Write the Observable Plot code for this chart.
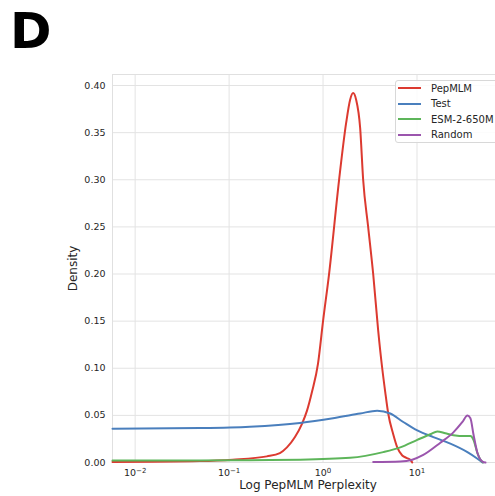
<!DOCTYPE html>
<html>
<head>
<meta charset="utf-8">
<script src="https://cdn.jsdelivr.net/npm/d3@7"></script>
<script src="https://cdn.jsdelivr.net/npm/@observablehq/plot@0.6"></script>
<style>
  html, body { margin: 0; padding: 0; background: #fff; overflow: hidden; }
  #wrap { position: relative; width: 495px; height: 496px; font-family: "DejaVu Sans", sans-serif; }
  #panel { position: absolute; left: 10px; top: 1px; font: bold 50px "DejaVu Sans", sans-serif; color: #000; line-height: 60px; }
  #legend { position: absolute; left: 395px; top: 80px; width: 120px; height: 63px; border: 1px solid #d8d8d8; border-radius: 3px; background: rgba(255,255,255,0.85); box-sizing: border-box; }
  .row { position: absolute; left: 2px; height: 14px; display: flex; align-items: center; font-size: 10px; color: #262626; }
  .sw { width: 23px; height: 2px; margin-right: 10px; }
</style>
</head>
<body>
<div id="wrap">
  <div id="chart"></div>
  <div id="panel">D</div>
  <div id="legend"></div>
</div>
<script>
// Series names and colours
const seriesNames = ["PepMLM", "Test", "ESM-2-650M", "Random"];
const seriesColors = ["#dc3a30", "#4a7fbd", "#5db55a", "#9b55ad"];

// PepMLM perplexity (x) and density (y)
const pepmlmX = [0.00574, 0.0486, 0.1095, 0.2525, 0.3475, 0.413, 0.5025, 0.597, 0.675, 0.763, 0.884, 1.0, 1.159, 1.482, 1.760, 1.942, 2.090, 2.250, 2.483, 2.673, 3.021, 3.418, 3.864, 4.264, 4.589, 4.940, 5.585, 6.165, 6.970, 7.690, 8.483, 8.909];
const pepmlmY = [0.0005, 0.0015, 0.003, 0.0065, 0.010, 0.016, 0.027, 0.041, 0.055, 0.075, 0.105, 0.15, 0.20, 0.30, 0.36, 0.385, 0.392, 0.385, 0.355, 0.30, 0.25, 0.20, 0.14, 0.10, 0.075, 0.052, 0.030, 0.016, 0.0075, 0.005, 0.003, 0.0];

const testX = [0.00574, 0.0486, 0.1663, 0.568, 1.279, 2.483, 3.770, 5.188, 7.143, 10.07, 14.93, 22.67, 34.42, 44.01, 49.77];
const testY = [0.0357, 0.0365, 0.038, 0.042, 0.047, 0.052, 0.055, 0.052, 0.043, 0.034, 0.027, 0.020, 0.011, 0.004, 0.0];

const esmX = [0.00574, 0.0486, 0.1663, 0.568, 1.942, 4.369, 6.634, 10.07, 13.87, 16.47, 20.05, 24.40, 32.77, 37.05, 39.90, 44.01, 47.38, 50.5];
const esmY = [0.002, 0.002, 0.0025, 0.003, 0.005, 0.011, 0.016, 0.024, 0.030, 0.033, 0.031, 0.029, 0.028, 0.028, 0.024, 0.010, 0.003, 0.0];

const randomX = [3.418, 6.634, 8.909, 11.67, 17.74, 24.40, 30.45, 34.42, 37.05, 39.90, 44.01, 49.77, 53.58];
const randomY = [0.0005, 0.001, 0.003, 0.008, 0.021, 0.032, 0.043, 0.050, 0.047, 0.030, 0.010, 0.001, 0.0];

// Axis ticks
const xTicks = [0.01, 0.1, 1, 10];
const xTickExponents = ["\u22122", "\u22121", "0", "1"];
const yTicks = [0, 0.05, 0.10, 0.15, 0.20, 0.25, 0.30, 0.35, 0.40];

const xsAll = [pepmlmX, testX, esmX, randomX];
const ysAll = [pepmlmY, testY, esmY, randomY];
const data = [];
seriesNames.forEach((name, i) => {
  xsAll[i].forEach((x, j) => data.push({series: name, x, y: ysAll[i][j]}));
});

const chart = Plot.plot({
  width: 495,
  height: 496,
  marginTop: 74,
  marginLeft: 112,
  marginRight: 0,
  marginBottom: 34,
  style: {fontFamily: "DejaVu Sans, sans-serif", fontSize: "9.5px", color: "#262626", background: "white"},
  x: {type: "log", domain: [0.00574, 68.5]},
  y: {domain: [0, 0.4117]},
  color: {domain: seriesNames, range: seriesColors},
  marks: [
    Plot.gridX(xTicks, {stroke: "#e3e3e3", strokeOpacity: 1, strokeWidth: 1}),
    Plot.gridY(yTicks, {stroke: "#e3e3e3", strokeOpacity: 1, strokeWidth: 1}),
    Plot.frame({stroke: "#e0e0e0", strokeWidth: 1}),
    Plot.axisX(xTicks, {tickSize: 0, tickPadding: 7, tickFormat: (d) => "10^" + xTickExponents[xTicks.indexOf(d)], label: null, fontSize: 9.5}),
    Plot.axisY(yTicks, {tickSize: 0, tickPadding: 7, tickFormat: d3.format(".2f"), label: null, fontSize: 9.5}),
    Plot.line(data, {x: "x", y: "y", z: "series", stroke: "series", strokeWidth: 2, curve: "monotone-x"}),
    Plot.text(["Density"], {frameAnchor: "left", textAnchor: "middle", rotate: -90, dx: -39, fontSize: 12}),
    Plot.text(["Log PepMLM Perplexity"], {frameAnchor: "bottom", textAnchor: "middle", dx: 4, dy: 26, fontSize: 12})
  ]
});
document.getElementById("chart").appendChild(chart);

// Turn "10^e" tick labels into real superscripts
d3.select(chart).selectAll('g[aria-label="x-axis tick label"] text').each(function() {
  const t = d3.select(this);
  const parts = t.text().split("^");
  if (parts.length !== 2) return;
  t.text("");
  t.append("tspan").text(parts[0]);
  t.append("tspan").attr("dy", "-0.45em").attr("font-size", "7px").text(parts[1]);
});

// Legend
const legend = document.getElementById("legend");
seriesNames.forEach((name, i) => {
  const row = document.createElement("div");
  row.className = "row";
  row.style.top = (0 + i * 15.5) + "px";
  const sw = document.createElement("span");
  sw.className = "sw";
  sw.style.background = seriesColors[i];
  const label = document.createElement("span");
  label.textContent = name;
  row.appendChild(sw);
  row.appendChild(label);
  legend.appendChild(row);
});
</script>
</body>
</html>
